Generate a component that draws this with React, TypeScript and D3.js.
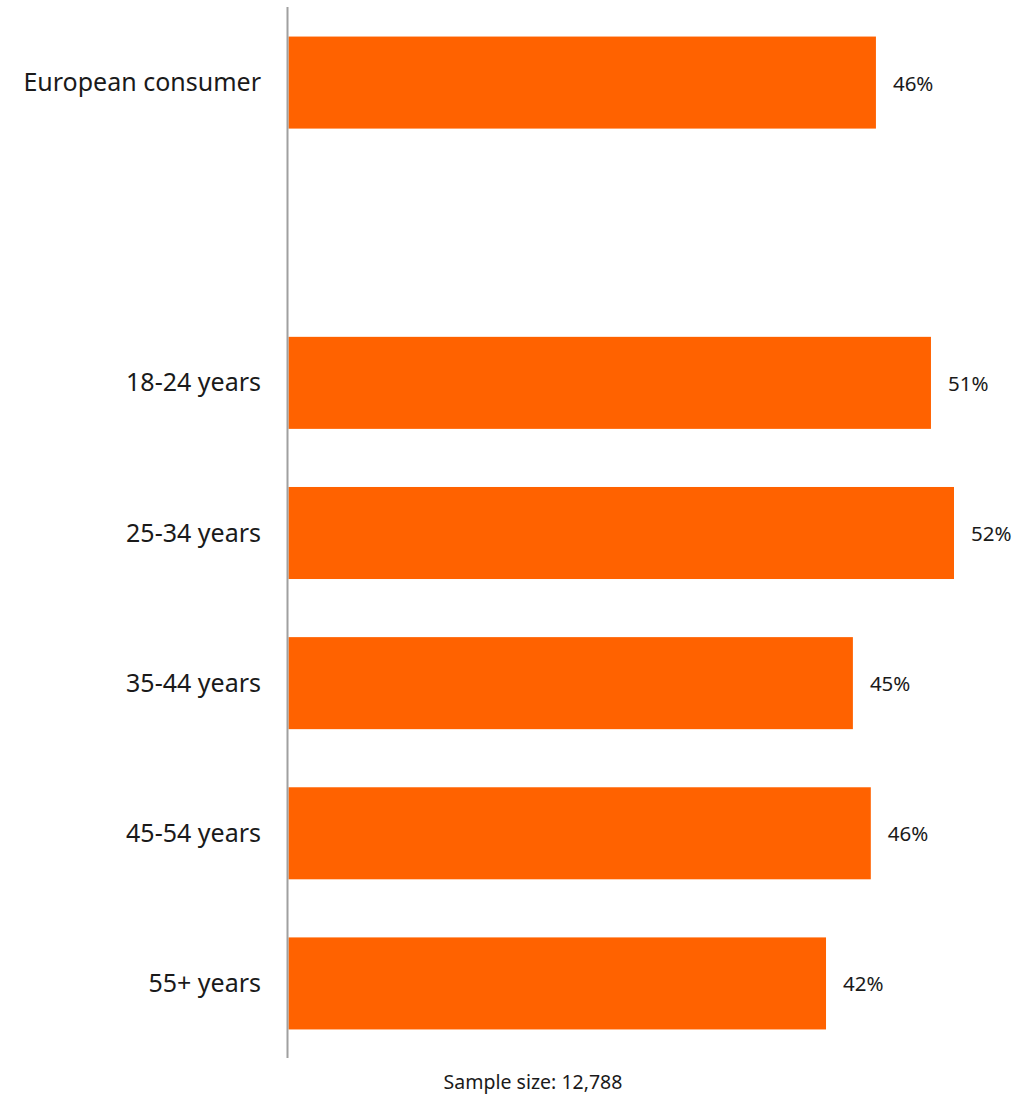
import React from "react";
import * as d3 from "d3";

const categories = ["European consumer", "", "18-24 years", "25-34 years", "35-44 years", "45-54 years", "55+ years"];
const values: (number | null)[] = [45.9, null, 50.2, 52.0, 44.1, 45.5, 42.0];
const valueLabels = ["46%", "", "51%", "52%", "45%", "46%", "42%"];
const footnote = "Sample size: 12,788";

const W = 1033;
const H = 1094;
const FONT = "'Noto Sans', 'Open Sans', sans-serif";

export default function App() {
  const x = d3.scaleLinear().domain([0, 52]).range([288.5, 954]);
  const y = d3
    .scaleBand<string>()
    .domain(categories.map((c, i) => `${i}`))
    .range([7.5, 1058.5])
    .paddingInner(0.387)
    .paddingOuter(0.1935);

  return (
    <svg
      width={W}
      height={H}
      style={{ position: "absolute", left: 0, top: 0, background: "#fff" }}
      fontFamily={FONT}
    >
      {categories.map((c, i) => {
        const v = values[i];
        const y0 = y(`${i}`)!;
        const cy = y0 + y.bandwidth() / 2;
        return (
          <g key={i}>
            {v !== null && (
              <rect x={x(0)} y={y0} width={x(v) - x(0)} height={y.bandwidth()} fill="#ff6200" />
            )}
            {c && (
              <text x={261} y={cy - 1.5} textAnchor="end" dominantBaseline="central" fontSize={25} fill="#1a1a1a">
                {c}
              </text>
            )}
            {v !== null && (
              <text x={x(v) + 17} y={cy} dominantBaseline="central" fontSize={20.5} fill="#1a1a1a">
                {valueLabels[i]}
              </text>
            )}
          </g>
        );
      })}
      <line x1={287.5} x2={287.5} y1={7} y2={1058} stroke="#a0a0a0" strokeWidth={2} />
      <text x={533} y={1081} textAnchor="middle" dominantBaseline="central" fontSize={19.5} fill="#1a1a1a">
        {footnote}
      </text>
    </svg>
  );
}
